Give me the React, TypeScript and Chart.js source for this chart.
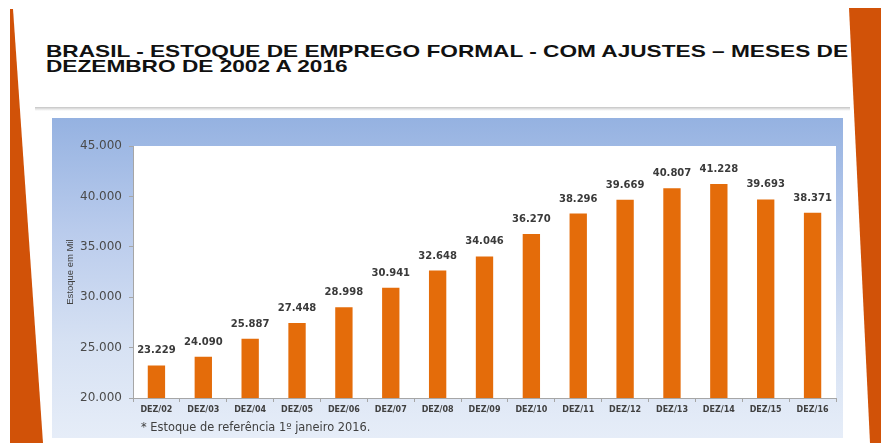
import React, { useEffect, useLayoutEffect, useRef } from "react";
import { Chart, registerables } from "chart.js";

Chart.register(...registerables);

// ---- data ----
const categories = [
  "DEZ/02", "DEZ/03", "DEZ/04", "DEZ/05", "DEZ/06", "DEZ/07", "DEZ/08", "DEZ/09",
  "DEZ/10", "DEZ/11", "DEZ/12", "DEZ/13", "DEZ/14", "DEZ/15", "DEZ/16",
];
const estoqueValues = [
  23229, 24090, 25887, 27448, 28998, 30941, 32648, 34046,
  36270, 38296, 39669, 40807, 41228, 39693, 38371,
];
const yMin = 20000;
const yMax = 45000;
const yStep = 5000;
const titleLines = [
  "BRASIL - ESTOQUE DE EMPREGO FORMAL - COM AJUSTES – MESES DE",
  "DEZEMBRO DE 2002 A 2016",
];
const yAxisTitle = "Estoque em Mil";
const footnote = "* Estoque de referência 1º janeiro 2016.";

const fmt = (v: number) => String(Math.round(v)).replace(/\B(?=(\d{3})+(?!\d))/g, ".");

const BAR_COLOR = "#E46C0A";
const CANVAS_W = 791;
const CANVAS_H = 322;

const plotBgPlugin = {
  id: "plotBg",
  beforeDraw(chart: any) {
    const { ctx, chartArea } = chart;
    ctx.save();
    ctx.fillStyle = "#ffffff";
    ctx.fillRect(chartArea.left, chartArea.top, chartArea.right - chartArea.left, chartArea.bottom - chartArea.top);
    ctx.restore();
  },
};

const valueLabelPlugin = {
  id: "valueLabels",
  afterDatasetsDraw(chart: any) {
    const { ctx } = chart;
    const meta = chart.getDatasetMeta(0);
    const data = chart.data.datasets[0].data as number[];
    ctx.save();
    ctx.font = "bold 10px 'DejaVu Sans'";
    ctx.fillStyle = "#3a3a3a";
    ctx.textAlign = "center";
    ctx.textBaseline = "alphabetic";
    meta.data.forEach((bar: any, i: number) => {
      ctx.fillText(fmt(data[i]), bar.x, bar.y - 12);
    });
    ctx.restore();
  },
};

function BarChart() {
  const ref = useRef<HTMLCanvasElement | null>(null);
  useEffect(() => {
    if (!ref.current) return;
    const chart = new Chart(ref.current, {
      type: "bar",
      data: {
        labels: categories,
        datasets: [
          {
            data: estoqueValues,
            backgroundColor: BAR_COLOR,
            borderWidth: 0,
            barPercentage: 0.37,
            categoryPercentage: 1,
          },
        ],
      },
      options: {
        responsive: false,
        animation: false,
        layout: { padding: { top: 28, right: 7, bottom: 0, left: 0 } },
        plugins: {
          legend: { display: false },
          tooltip: { enabled: false },
          title: { display: false },
        },
        scales: {
          x: {
            afterFit(scale: any) {
              scale.height = 42;
            },
            grid: {
              drawOnChartArea: false,
              drawTicks: true,
              tickLength: 4,
              color: "#a6a6a6",
              offset: true,
            },
            border: { display: true, color: "#a6a6a6" },
            ticks: {
              padding: 3,
              color: "#404040",
              font: { family: "'DejaVu Sans'", size: 8, weight: "bold" },
              maxRotation: 0,
              autoSkip: false,
            },
          },
          y: {
            min: yMin,
            max: yMax,
            afterFit(scale: any) {
              scale.width = 81;
            },
            grid: {
              drawOnChartArea: false,
              drawTicks: true,
              tickLength: 4,
              color: "#a6a6a6",
            },
            border: { display: true, color: "#a6a6a6" },
            ticks: {
              stepSize: yStep,
              padding: 7,
              color: "#4a4a4a",
              font: { family: "'DejaVu Sans'", size: 12 },
              callback: (v: any) => fmt(Number(v)),
            },
            title: {
              display: true,
              text: yAxisTitle,
              color: "#404040",
              font: { family: "'Liberation Sans'", size: 9.5 },
              padding: { top: 13, bottom: 0 },
            },
          },
        },
      },
      plugins: [plotBgPlugin, valueLabelPlugin],
    });
    return () => chart.destroy();
  }, []);
  return <canvas ref={ref} width={CANVAS_W} height={CANVAS_H} style={{ display: "block", width: CANVAS_W, height: CANVAS_H }} />;
}

function Title() {
  const l1 = useRef<HTMLDivElement | null>(null);
  const l2 = useRef<HTMLDivElement | null>(null);
  useLayoutEffect(() => {
    if (!l1.current || !l2.current) return;
    const span = l1.current.firstChild as HTMLSpanElement;
    const w = span.getBoundingClientRect().width;
    const s = 802 / w;
    l1.current.style.transform = `scaleX(${s})`;
    l2.current.style.transform = `scaleX(${s})`;
  }, []);
  const base: React.CSSProperties = {
    position: "absolute",
    left: 46,
    fontFamily: "'Liberation Sans', Arial, sans-serif",
    fontWeight: "bold",
    fontSize: 17,
    lineHeight: "17px",
    color: "#111",
    whiteSpace: "nowrap",
    transformOrigin: "0 0",
  };
  return (
    <>
      <div ref={l1} style={{ ...base, top: 42.6 }}>
        <span>{titleLines[0]}</span>
      </div>
      <div ref={l2} style={{ ...base, top: 57.6 }}>
        <span>{titleLines[1]}</span>
      </div>
    </>
  );
}

export default function App() {
  return (
    <div style={{ position: "absolute", left: 0, top: 0, width: 881, height: 443, background: "#fff", overflow: "hidden" }}>
      <svg width={881} height={443} style={{ position: "absolute", left: 0, top: 0 }}>
        <polygon points="10,9 13,9 43,443 10,443" fill="#D15208" />
        <polygon points="849,8 881,8 881,443 870,443" fill="#D15208" />
      </svg>
      <Title />
      <div
        style={{
          position: "absolute",
          left: 35,
          top: 107,
          width: 815,
          height: 4,
          background: "linear-gradient(to bottom, #c4c4c4 0%, #e4e4e4 50%, rgba(255,255,255,0) 100%)",
        }}
      />
      <div
        style={{
          position: "absolute",
          left: 52,
          top: 118,
          width: CANVAS_W,
          height: 320,
          background: "linear-gradient(to bottom, #95b2e1 0%, #b9cbec 35%, #d6e1f3 70%, #e6edf8 100%)",
        }}
      >
        <BarChart />
        <div
          style={{
            position: "absolute",
            left: 89,
            top: 302,
            fontFamily: "'DejaVu Sans', sans-serif",
            fontSize: 11.4,
            color: "#404040",
            whiteSpace: "nowrap",
          }}
        >
          {footnote}
        </div>
      </div>
    </div>
  );
}
